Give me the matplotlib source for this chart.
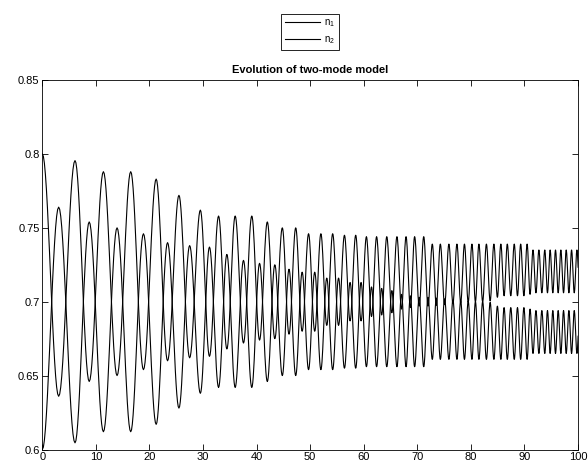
import numpy as np
import matplotlib.pyplot as plt

plt.rcParams['font.family'] = ['Liberation Sans', 'DejaVu Sans']
plt.rcParams['mathtext.default'] = 'regular'

# times of the n1 maxima (troughs sit halfway between them)
t_peak = [0.0, 6.1, 11.4, 16.5, 21.25, 25.5, 29.5, 32.9, 36.0, 39.1,
          42.0, 44.8, 47.3, 49.7, 52.0, 54.2, 56.4, 58.5,
          60.5, 62.4, 64.3, 66.2, 67.9, 69.5, 71.2,
          72.8, 74.3, 75.9, 77.4, 78.8, 80.2, 81.5, 82.9, 84.3, 85.6,
          86.8, 88.1, 89.3, 90.5,
          91.6, 92.7, 93.8, 94.8, 95.8, 96.8, 97.8, 98.8, 99.8, 100.8]

# n1: maxima at t_peak, minima after each maximum
n1_hi = [0.800, 0.7955, 0.788, 0.788, 0.783, 0.772, 0.762, 0.758, 0.758, 0.758,
         0.754, 0.750, 0.750, 0.746, 0.746, 0.746, 0.745, 0.745,
         0.744, 0.744, 0.744, 0.744, 0.744, 0.744, 0.744,
         0.739, 0.739, 0.739, 0.739, 0.739, 0.739, 0.739, 0.739, 0.739, 0.739,
         0.739, 0.739, 0.739, 0.739,
         0.735, 0.735, 0.735, 0.735, 0.735, 0.735, 0.735, 0.735, 0.735, 0.735]
n1_lo = [0.636, 0.646, 0.650, 0.654, 0.660, 0.662, 0.663, 0.668, 0.672, 0.674,
         0.675, 0.678, 0.680, 0.680, 0.684, 0.684, 0.687, 0.687,
         0.690, 0.691, 0.6925, 0.695, 0.696, 0.697, 0.697,
         0.6975, 0.698, 0.6988, 0.6993, 0.6997, 0.700, 0.700, 0.7005, 0.703, 0.704,
         0.704, 0.704, 0.704, 0.705,
         0.706, 0.706, 0.706, 0.706, 0.706, 0.706, 0.706, 0.706, 0.706, 0.706]

# n2: minima at t_peak, maxima after each minimum
n2_lo = [0.600, 0.6045, 0.612, 0.612, 0.617, 0.628, 0.638, 0.642, 0.642, 0.642,
         0.646, 0.650, 0.650, 0.654, 0.654, 0.654, 0.655, 0.655,
         0.656, 0.656, 0.656, 0.656, 0.656, 0.656, 0.656,
         0.661, 0.661, 0.661, 0.661, 0.661, 0.661, 0.661, 0.661, 0.661, 0.661,
         0.661, 0.661, 0.661, 0.661,
         0.665, 0.665, 0.665, 0.665, 0.665, 0.665, 0.665, 0.665, 0.665, 0.665]
n2_hi = [0.764, 0.754, 0.750, 0.746, 0.740, 0.738, 0.737, 0.732, 0.728, 0.726,
         0.725, 0.722, 0.720, 0.720, 0.716, 0.716, 0.713, 0.713,
         0.710, 0.709, 0.7075, 0.705, 0.704, 0.703, 0.703,
         0.7025, 0.702, 0.7012, 0.7007, 0.7003, 0.700, 0.700, 0.6995, 0.697, 0.696,
         0.696, 0.696, 0.696, 0.695,
         0.694, 0.694, 0.694, 0.694, 0.694, 0.694, 0.694, 0.694, 0.694, 0.694]


def trace(times, a, b):
    # half-cosine swing between consecutive extrema a[i] -> b[i] -> a[i+1]
    tt, vv = [], []
    s = np.linspace(0, 1, 16, endpoint=False)
    for i in range(len(times) - 1):
        ta, tb = times[i], times[i + 1]
        tm = 0.5 * (ta + tb)
        for t0, t1, v0, v1 in ((ta, tm, a[i], b[i]), (tm, tb, b[i], a[i + 1])):
            tt.append(t0 + (t1 - t0) * s)
            vv.append(v0 + (v1 - v0) * (1 - np.cos(np.pi * s)) / 2)
    tt.append([times[-1]])
    vv.append([a[-1]])
    return np.concatenate(tt), np.concatenate(vv)


t1, y1 = trace(t_peak, n1_hi, n1_lo)
t2, y2 = trace(t_peak, n2_lo, n2_hi)

fig = plt.figure(figsize=(5.88, 4.66), dpi=100)
ax = fig.add_axes([0.072, 0.0354, 0.911, 0.7929])

ax.plot(t1, y1, color='k', lw=0.8, label='$n_1$')
ax.plot(t2, y2, color='k', lw=0.8, label='$n_2$')

ax.set_xlim(0, 100)
ax.set_ylim(0.6, 0.85)
ax.set_xticks(np.arange(0, 101, 10))
ax.set_yticks([0.6, 0.65, 0.7, 0.75, 0.8, 0.85])
ax.set_yticklabels(['0.6', '0.65', '0.7', '0.75', '0.8', '0.85'])
ax.tick_params(direction='in', top=True, right=True, length=4, width=0.6,
               labelsize=8, pad=2)
for sp in ax.spines.values():
    sp.set_linewidth(0.6)

ax.set_title('Evolution of two-mode model', fontsize=8, fontweight='bold', pad=5)

leg = fig.legend(loc='center', bbox_to_anchor=(0.527, 0.932), fontsize=7,
                 handlelength=3.6, fancybox=False, edgecolor='k',
                 framealpha=1, borderpad=0.4, labelspacing=0.5, handletextpad=0.4)
leg.get_frame().set_linewidth(0.6)

fig.savefig('out.png', dpi=100)
